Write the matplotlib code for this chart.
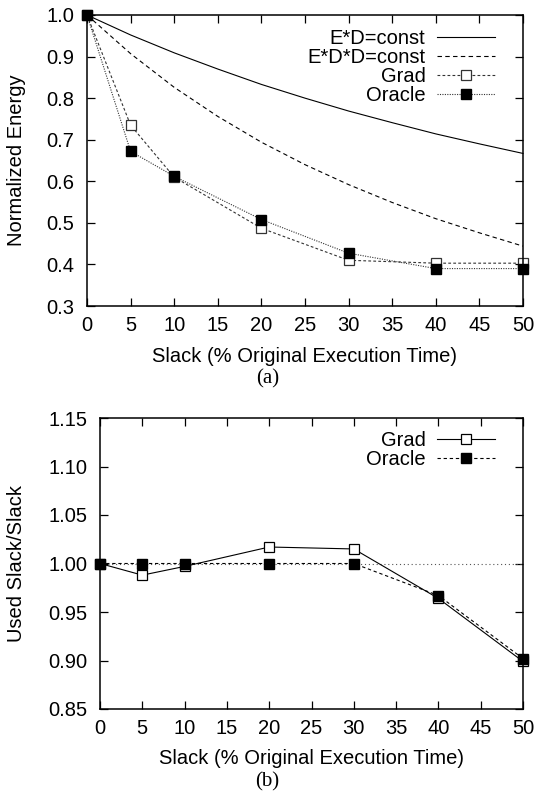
import matplotlib
matplotlib.use("Agg")
import matplotlib.pyplot as plt

plt.rcParams['font.family'] = ['Liberation Sans', 'DejaVu Sans']

slack = [0, 5, 10, 15, 20, 25, 30, 35, 40, 45, 50]
ed_const = [1.0, 0.952, 0.909, 0.870, 0.833, 0.800, 0.769, 0.741, 0.714, 0.690, 0.667]
edd_const = [1.0, 0.907, 0.826, 0.756, 0.694, 0.640, 0.592, 0.549, 0.510, 0.476, 0.444]

pts = [0, 5, 10, 20, 30, 40, 50]
grad_energy = [1.0, 0.735, 0.610, 0.487, 0.410, 0.403, 0.403]
oracle_energy = [1.0, 0.672, 0.612, 0.508, 0.427, 0.390, 0.390]

grad_used = [1.0, 0.988, 0.997, 1.017, 1.015, 0.964, 0.899]
oracle_used = [1.0, 1.0, 1.0, 1.0, 1.0, 0.967, 0.902]
ref_line = [1.0, 1.0]
ref_x = [0, 50]

FS = 14.5

fig = plt.figure(figsize=(5.35, 7.92), dpi=100)
ax1 = fig.add_axes([87 / 535, 1 - 306 / 792, 436 / 535, 291 / 792])
ax2 = fig.add_axes([100 / 535, 1 - 709 / 792, 423 / 535, 291 / 792])

lw = 0.8
ms = 6.5

# (a)
ax1.plot(slack, ed_const, '-', color='black', lw=lw, label='E*D=const')
ax1.plot(slack, edd_const, color='black', lw=lw, dashes=(4, 3), label='E*D*D=const')
ax1.plot(pts, grad_energy, color='#333333', lw=lw, dashes=(2.5, 2), marker='s', ms=ms,
         mfc='white', mec='#333333', mew=0.9, label='Grad')
ax1.plot(pts, oracle_energy, color='#333333', lw=lw, dashes=(1, 1.2), marker='s', ms=ms,
         mfc='black', mec='black', label='Oracle')
ax1.set_xlim(0, 50)
ax1.set_ylim(0.3, 1.0)
ax1.set_xticks(range(0, 51, 5))
ax1.set_yticks([0.3, 0.4, 0.5, 0.6, 0.7, 0.8, 0.9, 1.0])
ax1.set_yticklabels(['0.3', '0.4', '0.5', '0.6', '0.7', '0.8', '0.9', '1.0'])
ax1.set_ylabel('Normalized Energy', fontsize=FS, va='center')
ax1.yaxis.set_label_coords((17 - 87) / 436, 0.5)
ax1.set_xlabel('Slack (% Original Execution Time)', fontsize=FS, va='center')
ax1.xaxis.set_label_coords(0.5, (306 - 356) / 291)
ax1.legend(loc='upper right', bbox_to_anchor=(1 - 12 / 436, 1 + 2 / 291),
           frameon=False, markerfirst=False, fontsize=FS,
           handlelength=2.85, labelspacing=0.0, borderaxespad=0.4, handletextpad=0.6)
fig.text(0.5, 1 - 379 / 792, '(a)', ha='center', va='center', fontsize=15,
         family='Liberation Serif')

# (b)
ax2.plot(ref_x, ref_line, color='#555555', lw=lw, dashes=(1, 2.5))
ax2.plot(pts, grad_used, '-', color='black', lw=lw, marker='s', ms=ms,
         mfc='white', mec='black', mew=0.9, label='Grad')
ax2.plot(pts, oracle_used, color='black', lw=lw, dashes=(3, 2.5), marker='s', ms=ms,
         mfc='black', mec='black', label='Oracle')
ax2.set_xlim(0, 50)
ax2.set_ylim(0.85, 1.15)
ax2.set_xticks(range(0, 51, 5))
ax2.set_yticks([0.85, 0.90, 0.95, 1.00, 1.05, 1.10, 1.15])
ax2.set_yticklabels(['0.85', '0.90', '0.95', '1.00', '1.05', '1.10', '1.15'])
ax2.set_ylabel('Used Slack/Slack', fontsize=FS, va='center')
ax2.yaxis.set_label_coords((17 - 100) / 423, 0.5)
ax2.set_xlabel('Slack (% Original Execution Time)', fontsize=FS, va='center')
ax2.xaxis.set_label_coords(0.5, (709 - 759) / 291)
ax2.legend(loc='upper right', bbox_to_anchor=(1 - 12 / 423, 1 + 3 / 291),
           frameon=False, markerfirst=False, fontsize=FS,
           handlelength=2.85, labelspacing=0.0, borderaxespad=0.4, handletextpad=0.6)
fig.text(0.5, 1 - 782 / 792, '(b)', ha='center', va='center', fontsize=15,
         family='Liberation Serif')

for ax in (ax1, ax2):
    ax.tick_params(direction='in', length=6, width=0.9, top=True, right=True,
                   labelsize=FS)
    ax.tick_params(axis='y', pad=9)
    ax.tick_params(axis='x', pad=7)
    for sp in ax.spines.values():
        sp.set_linewidth(1.1)
    for m in ax.lines:
        m.set_clip_on(False)

fig.savefig('out.png', dpi=100)
